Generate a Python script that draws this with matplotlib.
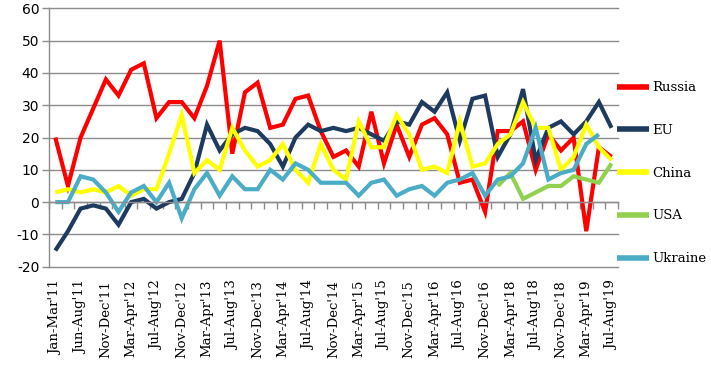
import matplotlib
matplotlib.use("Agg")
import matplotlib.pyplot as plt
import numpy as np

categories = [
    "Jan-Mar'11", "Apr-May'11", "Jun-Aug'11", "Sep-Oct'11", "Nov-Dec'11",
    "Jan-Feb'12", "Mar-Apr'12", "May-Jun'12", "Jul-Aug'12", "Sep-Oct'12",
    "Nov-Dec'12", "Jan-Feb'13", "Mar-Apr'13", "May-Jun'13", "Jul-Aug'13",
    "Sep-Oct'13", "Nov-Dec'13", "Jan-Feb'14", "Mar-Apr'14", "May-Jun'14",
    "Jul-Aug'14", "Sep-Oct'14", "Nov-Dec'14", "Jan-Feb'15", "Mar-Apr'15",
    "May-Jun'15", "Jul-Aug'15", "Sep-Oct'15", "Nov-Dec'15", "Jan-Feb'16",
    "Mar-Apr'16", "May-Jun'16", "Jul-Aug'16", "Sep-Oct'16", "Nov-Dec'16",
    "Jan-Feb'18", "Mar-Apr'18", "May-Jun'18", "Jul-Aug'18", "Sep-Oct'18",
    "Nov-Dec'18", "Jan-Feb'19", "Mar-Apr'19", "May-Jun'19", "Jul-Aug'19",
]

russia = [20, 5, 20, 29, 38, 33, 41, 43, 26, 31, 31, 26, 36, 50, 15,
          34, 37, 23, 24, 32, 33, 22, 14, 16, 11, 28, 12, 24, 14, 24,
          26, 21, 6, 7, -3, 22, 22, 25, 10, 21, 16, 20, -9, 17, 14]
eu = [-15, -9, -2, -1, -2, -7, 0, 1, -2, 0, 1, 9, 24, 16, 21,
      23, 22, 18, 11, 20, 24, 22, 23, 22, 23, 21, 19, 25, 24, 31,
      28, 34, 19, 32, 33, 14, 21, 35, 13, 23, 25, 21, 25, 31, 23]
china = [3, 4, 3, 4, 3, 5, 2, 4, 4, 15, 27, 9, 13, 10, 23,
         16, 11, 13, 18, 10, 6, 18, 10, 7, 25, 17, 17, 27, 21, 10,
         11, 9, 25, 11, 12, 18, 21, 31, 23, 23, 10, 14, 24, 17, 13]
usa = [None] * 35 + [5, 9, 1, 3, 5, 5, 8, 7, 6, 12]
ukraine = [0, 0, 8, 7, 3, -3, 3, 5, 0, 6, -5, 4, 9, 2, 8,
           4, 4, 10, 7, 12, 10, 6, 6, 6, 2, 6, 7, 2, 4, 5,
           2, 6, 7, 9, 2, 7, 8, 12, 23, 7, 9, 10, 18, 21, None]

series_names = ["Russia", "EU", "China", "USA", "Ukraine"]
series_values = [russia, eu, china, usa, ukraine]
series_colors = ["#FF0000", "#1F3A5F", "#FFFF00", "#92D050", "#4BACC6"]

yticks = [60, 50, 40, 30, 20, 10, 0, -10, -20]

fig = plt.figure(figsize=(7.11, 3.65), dpi=100)
ax = fig.add_axes([0.0689, 0.2693, 0.8001, 0.7077])

x = np.arange(len(categories))
for name, vals, col in zip(series_names, series_values, series_colors):
    arr = np.array([np.nan if v is None else v for v in vals], dtype=float)
    ax.plot(x, arr, color=col, lw=3.0, label=name, solid_joinstyle="miter",
            solid_capstyle="butt")

grid_col = "#8C8C8C"
ax.set_ylim(-20, 60)
ax.set_xlim(-0.5, len(categories) - 0.5)
ax.set_yticks(yticks)
ax.set_yticklabels([str(v) for v in yticks], fontsize=10, family="DejaVu Sans")
ax.yaxis.grid(True, color=grid_col, lw=1.0)
ax.set_axisbelow(True)
ax.tick_params(axis="y", length=5, color=grid_col, width=1.0, pad=2)
for gl in ax.get_ygridlines():
    gl.set_clip_on(False)

for s in ["top", "right"]:
    ax.spines[s].set_visible(False)
ax.spines["left"].set_color(grid_col)
ax.spines["left"].set_linewidth(1.0)
ax.spines["bottom"].set_position(("data", 0))
ax.spines["bottom"].set_color(grid_col)
ax.spines["bottom"].set_linewidth(1.0)

ax.set_xticks(x[::2])
ax.set_xticklabels(categories[::2], rotation=90, fontsize=9.5,
                   family="DejaVu Serif", va="top")
ax.set_xticks(np.arange(-0.5, len(categories)), minor=True)
ax.tick_params(axis="x", which="major", length=0, pad=56)
ax.tick_params(axis="x", which="minor", length=5, color=grid_col, width=1.0,
               direction="out")

leg = fig.legend(loc="upper left", bbox_to_anchor=(0.868, 0.777), frameon=False,
                 prop={"family": "DejaVu Serif", "size": 9.5},
                 labelspacing=2.25, handlelength=2.4, handletextpad=0.25,
                 borderpad=0, borderaxespad=0)
for h in leg.get_lines():
    h.set_linewidth(4.0)

fig.savefig("out.png", dpi=100)
